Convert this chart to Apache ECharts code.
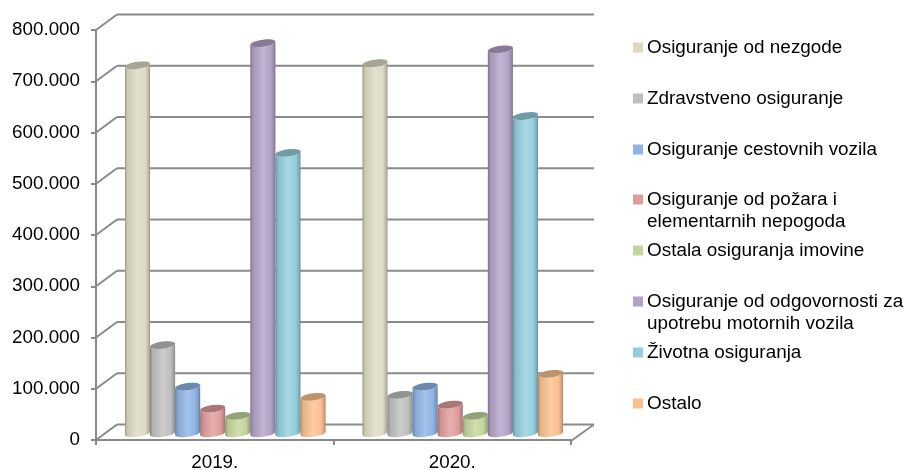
<!DOCTYPE html>
<html>
<head>
<meta charset="utf-8">
<style>html,body{margin:0;padding:0;background:#fff}#c{width:907px;height:470px}</style>
<script src="https://cdn.jsdelivr.net/npm/echarts@6/dist/echarts.min.js"></script>
</head>
<body>
<div id="c"></div>
<script>
const categories = ['2019.', '2020.'];
const names = ['Osiguranje od nezgode','Zdravstveno osiguranje','Osiguranje cestovnih vozila','Osiguranje od požara i elementarnih nepogoda','Ostala osiguranja imovine','Osiguranje od odgovornosti za upotrebu motornih vozila','Životna osiguranja','Ostalo'];
const firstLines = ['Osiguranje od nezgode','Zdravstveno osiguranje','Osiguranje cestovnih vozila','Osiguranje od požara i','Ostala osiguranja imovine','Osiguranje od odgovornosti za','Životna osiguranja','Ostalo'];
const secondLines = ['','','','elementarnih nepogoda','','upotrebu motornih vozila','',''];
const v2019 = [716000, 170000, 89000, 46000, 32000, 759000, 545000, 69000];
const v2020 = [720000, 73000, 89000, 54000, 32000, 747000, 617000, 114000];
const yTicks = [0,100000,200000,300000,400000,500000,600000,700000,800000];
const colors = ['#DDD9C3','#BFBFBF','#8EB4E3','#E09C9B','#C3D69B','#B3A2C7','#93CDDD','#FAC090'];
const legendY = [49,100,151,201,252,303,354,405];

const DX = 21, DY = 15.5, PITCH = 0.1056, RY = 3.6, SK = 1.6, GRID = '#8a8a8a';

function shade(hex, f){
  const n = parseInt(hex.slice(1),16);
  const c = [n>>16, (n>>8)&255, n&255].map(v => Math.max(0,Math.min(255,Math.round(f>1 ? v+(255-v)*(f-1) : v*f))));
  return 'rgb('+c.join(',')+')';
}
function arc(cx, cy, rx, from, to){
  const pts = [];
  for(let i=0;i<=24;i++){
    const t = from+(to-from)*i/24;
    pts.push([cx+rx*Math.cos(t), cy+RY*Math.sin(t)-SK*Math.cos(t)]);
  }
  return pts;
}
function cylinder(params, api){
  const s = params.seriesIndex-1;
  const p = api.coord([api.value(0), api.value(1)]);
  const base = api.coord([api.value(0), 0]);
  const step = api.size([1,0])[0]*PITCH;
  const cx = p[0]+DX/2+(s-3.5)*step, rx = step/2;
  const top = p[1]-DY/2, bot = base[1]-DY/2+1;
  const c = colors[s];
  const body = arc(cx,bot,rx,0,Math.PI).concat(arc(cx,top,rx,Math.PI,0));
  return {type:'group',children:[
    {type:'polygon',shape:{points:body},style:{fill:{type:'linear',x:0,y:0,x2:1,y2:0,colorStops:[
      {offset:0,color:shade(c,.7)},{offset:.1,color:shade(c,.92)},{offset:.5,color:shade(c,1.2)},
      {offset:.82,color:shade(c,1.0)},{offset:.94,color:shade(c,.84)},{offset:1,color:shade(c,.7)}]}}},
    {type:'polygon',shape:{points:arc(cx,top,rx,0,Math.PI*2)},style:{fill:shade(c,.76)}}
  ]};
}
function frame(params, api){
  const v = api.value(0);
  const c = api.coord([0,v]);
  const w = api.size([1,0])[0];
  const x0 = c[0]-w/2, y = c[1];
  const line = {stroke:GRID,lineWidth:2,fill:null};
  const kids = [
    {type:'line',shape:{x1:x0,y1:y,x2:x0+DX,y2:y-DY},style:line},
    {type:'line',shape:{x1:x0+DX,y1:y-DY,x2:x0+2*w+DX+2,y2:y-DY},style:line}
  ];
  if(v===0){
    const r = x0+2*w;
    kids.push({type:'line',shape:{x1:r,y1:y+1,x2:r+DX+2,y2:y-DY},style:line});
  }
  return {type:'group',children:kids};
}

const series = [{type:'custom',name:'frame',z:1,silent:true,renderItem:frame,clip:false,
  encode:{x:-1,y:0},data:yTicks.map(v=>[v])}].concat(names.map((n,i)=>({
  type:'custom',name:n,z:3,clip:false,renderItem:cylinder,
  itemStyle:{color:colors[i]},encode:{x:0,y:1},
  data:[[0,v2019[i]],[1,v2020[i]]]
})));

const chart = echarts.init(document.getElementById('c'));
chart.setOption({
  animation:false,
  backgroundColor:'#fff',
  textStyle:{fontFamily:'"Liberation Sans",Arial,sans-serif'},
  grid:{left:96,right:336,top:30,bottom:30,containLabel:false,outerBoundsMode:'none'},
  xAxis:{type:'category',data:categories,boundaryGap:true,
    axisLine:{lineStyle:{color:GRID,width:2}},
    axisTick:{show:true,length:5,lineStyle:{color:GRID,width:2}},
    axisLabel:{color:'#000',fontSize:18.8,margin:13,fontFamily:'"Liberation Sans",Arial,sans-serif'}},
  yAxis:{type:'value',min:0,max:800000,interval:100000,splitLine:{show:false},
    axisLine:{show:true,lineStyle:{color:GRID,width:2}},
    axisTick:{show:true,length:5,lineStyle:{color:GRID,width:2}},
    axisLabel:{color:'#000',fontSize:18.8,margin:16,padding:[3,0,0,0],fontFamily:'"Liberation Sans",Arial,sans-serif',
      formatter:v=>String(v).replace(/\B(?=(\d{3})+$)/g,'.')}},
  legend:names.map((n,i)=>({
    data:[n],orient:'vertical',left:633,top:legendY[i]-11,padding:0,
    itemWidth:10,itemHeight:10,itemGap:0,icon:'rect',selectedMode:false,
    formatter:()=>firstLines[i],
    textStyle:{color:'#000',fontSize:18.9,fontFamily:'"Liberation Sans",Arial,sans-serif',padding:[0,0,0,-1]}
  })),
  graphic:names.map((n,i)=>secondLines[i]?{type:'text',left:647,top:legendY[i]+11,
    style:{text:secondLines[i],fill:'#000',fontSize:18.9,fontFamily:'"Liberation Sans",Arial,sans-serif'}}:null).filter(Boolean),
  series
});
</script>
</body>
</html>
